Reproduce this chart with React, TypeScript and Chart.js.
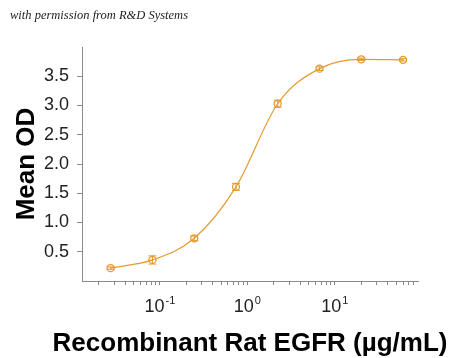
import React, { useEffect, useRef } from "react";
import { Chart, registerables } from "chart.js";

Chart.register(...registerables);

// Concentration of Recombinant Rat EGFR (µg/mL)
const CONCENTRATIONS = [0.0274, 0.0823, 0.247, 0.741, 2.22, 6.67, 20, 60];
// Mean OD
const MEAN_OD = [0.22, 0.36, 0.73, 1.61, 3.03, 3.63, 3.79, 3.78];
// Error (± OD)
const OD_ERROR = [0.02, 0.07, 0.04, 0.06, 0.06, 0.03, 0.02, 0.02];

const Y_TICKS = [0.5, 1.0, 1.5, 2.0, 2.5, 3.0, 3.5];
const X_DECADES = [-1, 0, 1];
const X_TITLE = "Recombinant Rat EGFR (µg/mL)";
const Y_TITLE = "Mean OD";

const X_MIN = 0.0129;
const X_MAX = 89;
const Y_MIN = 0;
const Y_MAX = 4;

const ORANGE = "#E39B2E";
const AXIS_GRAY = "#8a8a8a";
const FONT = "'Liberation Sans', Arial, sans-serif";

const errorBarPlugin = {
  id: "errorBars",
  afterDatasetsDraw(chart: any) {
    const { ctx, scales } = chart;
    const xs = scales.x;
    const ys = scales.y;
    ctx.save();
    ctx.strokeStyle = ORANGE;
    ctx.lineWidth = 1;
    CONCENTRATIONS.forEach((c, i) => {
      const px = xs.getPixelForValue(c);
      const top = ys.getPixelForValue(MEAN_OD[i] + OD_ERROR[i]);
      const bot = ys.getPixelForValue(MEAN_OD[i] - OD_ERROR[i]);
      ctx.beginPath();
      ctx.moveTo(px, top);
      ctx.lineTo(px, bot);
      ctx.moveTo(px - 4, top);
      ctx.lineTo(px + 4, top);
      ctx.moveTo(px - 4, bot);
      ctx.lineTo(px + 4, bot);
      ctx.stroke();
    });
    ctx.restore();
  },
};

const axisTextPlugin = {
  id: "axisText",
  afterDraw(chart: any) {
    const { ctx, scales, chartArea } = chart;
    const xs = scales.x;
    ctx.save();
    // decade tick labels with superscript exponents
    ctx.fillStyle = "#222";
    ctx.textBaseline = "alphabetic";
    ctx.textAlign = "left";
    const baseY = xs.top + 31;
    X_DECADES.forEach((d) => {
      const px = xs.getPixelForValue(Math.pow(10, d));
      const base = "10";
      const exp = String(d);
      ctx.font = `18px ${FONT}`;
      const wb = ctx.measureText(base).width;
      ctx.font = `11px ${FONT}`;
      const we = ctx.measureText(exp).width;
      const start = px - (wb + we + 1) / 2;
      ctx.font = `18px ${FONT}`;
      ctx.fillText(base, start, baseY);
      ctx.font = `11px ${FONT}`;
      ctx.fillText(exp, start + wb + 1, baseY - 8);
    });
    // x axis title
    ctx.fillStyle = "#000";
    ctx.textAlign = "center";
    ctx.font = `bold 26px ${FONT}`;
    ctx.fillText(X_TITLE, (chartArea.left + chartArea.right) / 2, 351);
    ctx.restore();
  },
};

function buildXTicks() {
  const ticks: { value: number }[] = [];
  for (let e = -3; e <= 2; e++) {
    for (let m = 1; m <= 9; m++) {
      const v = m * Math.pow(10, e);
      if (v >= X_MIN && v <= X_MAX) ticks.push({ value: v });
    }
  }
  return ticks;
}

export default function App() {
  const canvasRef = useRef<HTMLCanvasElement | null>(null);

  useEffect(() => {
    if (!canvasRef.current) return;
    const chart = new Chart(canvasRef.current, {
      type: "line",
      data: {
        datasets: [
          {
            data: CONCENTRATIONS.map((x, i) => ({ x, y: MEAN_OD[i] })),
            borderColor: ORANGE,
            borderWidth: 1.2,
            pointRadius: 3.5,
            pointBorderWidth: 1.3,
            pointBorderColor: ORANGE,
            pointBackgroundColor: "rgba(255,255,255,0)",
            cubicInterpolationMode: "monotone",
            fill: false,
          },
        ],
      },
      options: {
        animation: false,
        responsive: false,
        devicePixelRatio: 1,
        layout: { padding: { left: 0, right: 32, top: 47, bottom: 0 } },
        plugins: {
          legend: { display: false },
          tooltip: { enabled: false },
        },
        scales: {
          x: {
            type: "logarithmic",
            min: X_MIN,
            max: X_MAX,
            afterBuildTicks: (s: any) => {
              s.ticks = buildXTicks();
            },
            afterFit: (s: any) => {
              s.height = 77;
            },
            grid: {
              drawOnChartArea: false,
              drawTicks: true,
              tickLength: 4,
              color: AXIS_GRAY,
            },
            border: { color: AXIS_GRAY, width: 1 },
            ticks: {
              autoSkip: false,
              maxRotation: 0,
              callback: () => "",
            },
            title: { display: false },
          },
          y: {
            type: "linear",
            min: Y_MIN,
            max: Y_MAX,
            afterBuildTicks: (s: any) => {
              s.ticks = Y_TICKS.map((v) => ({ value: v }));
            },
            afterFit: (s: any) => {
              s.width = 82;
            },
            grid: {
              drawOnChartArea: false,
              drawTicks: true,
              tickLength: 5,
              color: AXIS_GRAY,
            },
            border: { color: AXIS_GRAY, width: 1 },
            ticks: {
              color: "#222",
              padding: 8,
              font: { family: FONT, size: 18 },
              callback: (v: any) => Number(v).toFixed(1),
            },
            title: {
              display: true,
              text: Y_TITLE,
              color: "#000",
              font: { family: FONT, size: 26, weight: "bold" },
              padding: { top: 11, bottom: 0 },
            },
          },
        },
      },
      plugins: [errorBarPlugin, axisTextPlugin],
    } as any);
    return () => chart.destroy();
  }, []);

  return (
    <div style={{ position: "absolute", left: 0, top: 0, width: 450, height: 358, background: "#fff" }}>
      <div
        style={{
          position: "absolute",
          left: 10,
          top: 8,
          fontFamily: "'Liberation Serif', serif",
          fontStyle: "italic",
          fontSize: 12.5,
          color: "#222",
          whiteSpace: "nowrap",
        }}
      >
        with permission from R&amp;D Systems
      </div>
      <canvas ref={canvasRef} width={450} height={358} style={{ display: "block" }} />
    </div>
  );
}
